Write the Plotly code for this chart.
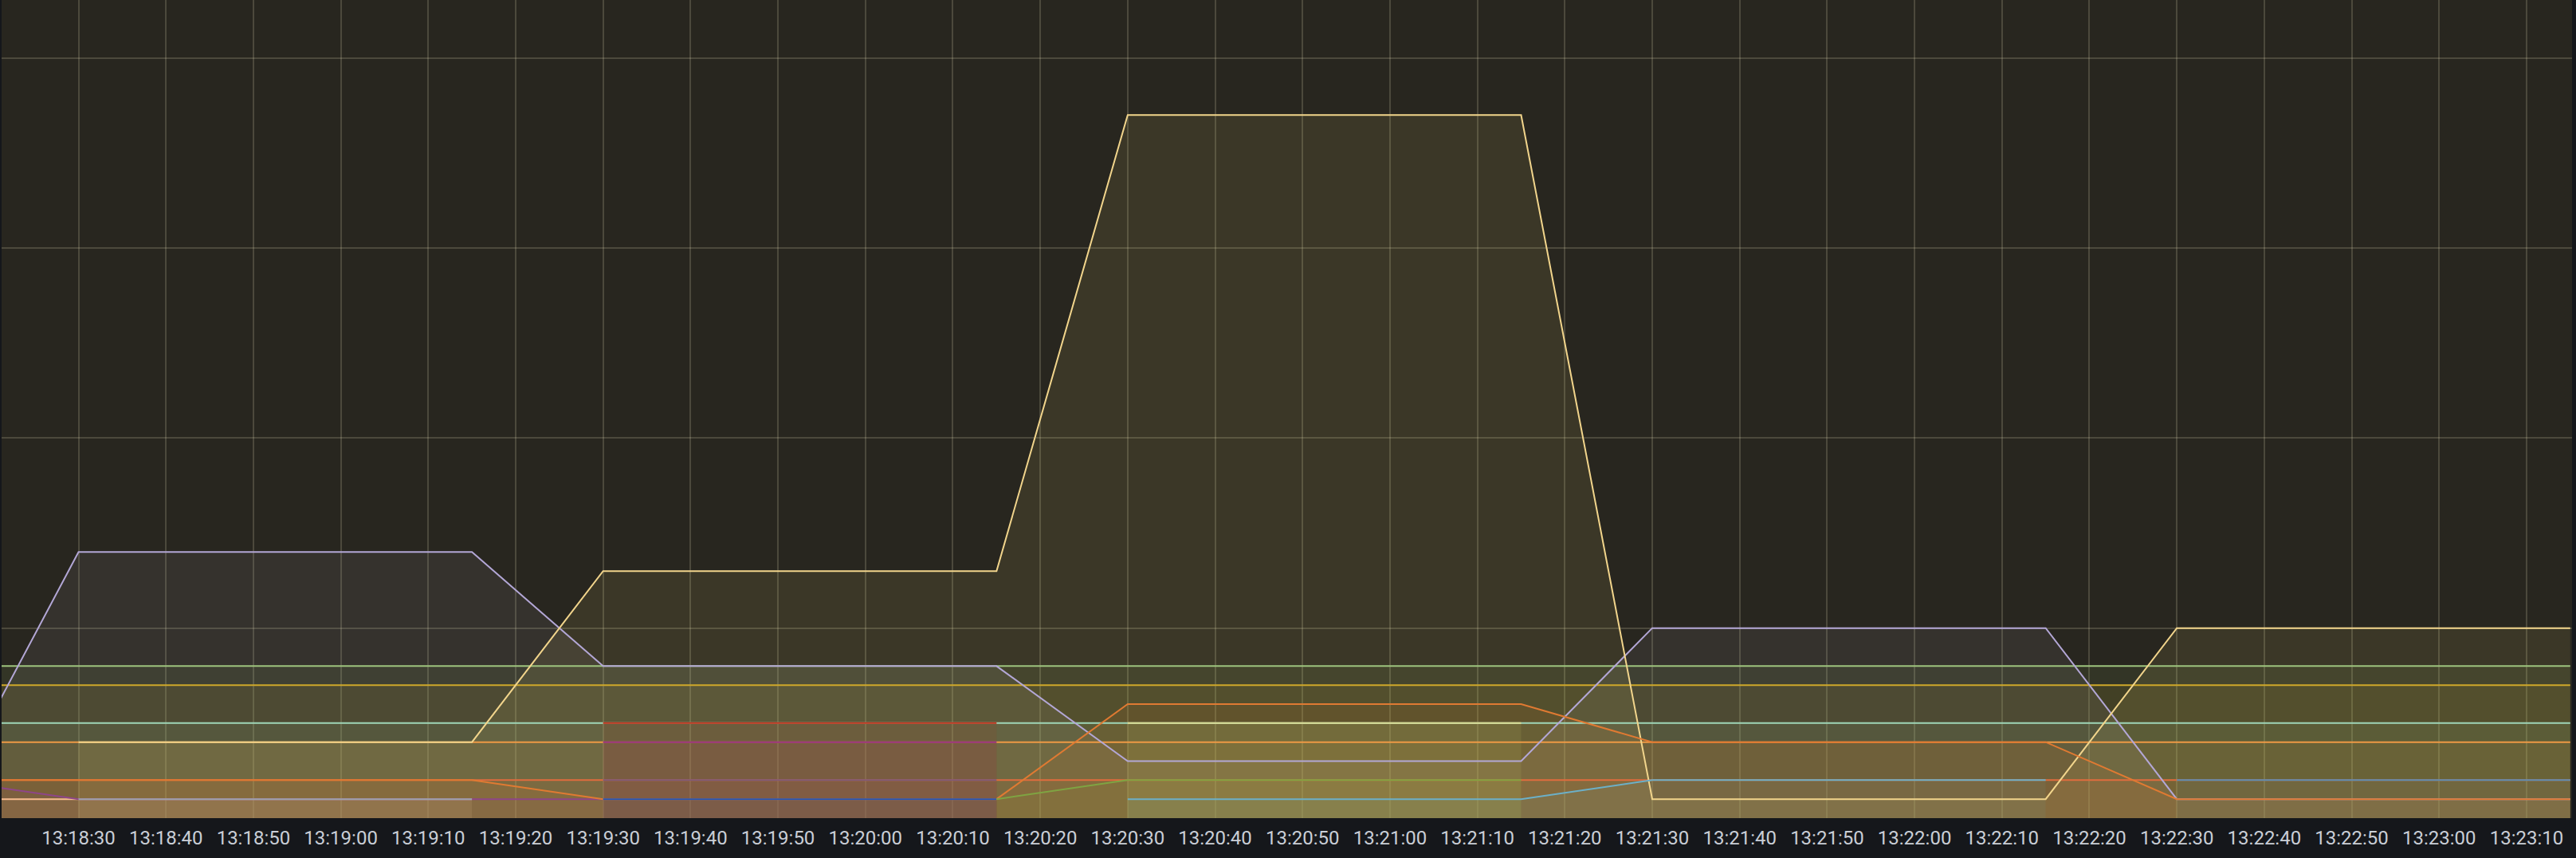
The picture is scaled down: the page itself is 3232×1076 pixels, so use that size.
import plotly.graph_objects as go

# sample times (every 15 s)
times = [
    "2024-01-01 13:18:15", "2024-01-01 13:18:30", "2024-01-01 13:18:45",
    "2024-01-01 13:19:00", "2024-01-01 13:19:15", "2024-01-01 13:19:30",
    "2024-01-01 13:19:45", "2024-01-01 13:20:00", "2024-01-01 13:20:15",
    "2024-01-01 13:20:30", "2024-01-01 13:20:45", "2024-01-01 13:21:00",
    "2024-01-01 13:21:15", "2024-01-01 13:21:30", "2024-01-01 13:21:45",
    "2024-01-01 13:22:00", "2024-01-01 13:22:15", "2024-01-01 13:22:30",
    "2024-01-01 13:22:45", "2024-01-01 13:23:00", "2024-01-01 13:23:15",
]
N = None
green      = [8, 8, 8, 8, 8, 8, 8, 8, 8, 8, 8, 8, 8, 8, 8, 8, 8, 8, 8, 8, 8]
gold       = [7, 7, 7, 7, 7, 7, 7, 7, 7, 7, 7, 7, 7, 7, 7, 7, 7, 7, 7, 7, 7]
mint       = [5, 5, 5, 5, 5, 5, 5, 5, 5, 5, 5, 5, 5, 5, 5, 5, 5, 5, 5, 5, 5]
orange     = [4, 4, 4, 4, 4, 4, 4, 4, 4, 4, 4, 4, 4, 4, 4, 4, 4, 4, 4, 4, 4]
orangered  = [2, 2, 2, 2, 2, 2, 2, 2, 2, 2, 2, 2, 2, 2, 2, 2, 2, 2, 2, 2, 2]
peach      = [1, 1, 1, 1, 1, N, N, N, N, N, N, N, N, N, N, N, N, N, N, N, N]
purple     = [2, 1, 1, 1, 1, 1, N, N, N, N, N, N, N, N, N, N, N, N, N, N, N]
gray       = [N, 1, 1, 1, 1, N, N, N, N, N, N, N, N, N, N, N, N, N, N, N, N]
lavender   = [1, 14, 14, 14, 14, 8, 8, 8, 8, 3, 3, 3, 3, 10, 10, 10, 10, 1, 1, 1, 1]
yellow     = [N, 4, 4, 4, 4, 13, 13, 13, 13, 37, 37, 37, 37, 1, 1, 1, 1, 10, 10, 10, 10]
orange2    = [2, 2, 2, 2, 2, 1, 1, 1, 1, 6, 6, 6, 6, 4, 4, 4, 4, 1, 1, 1, 1]
red        = [N, N, N, N, N, 5, 5, 5, 5, N, N, N, N, N, N, N, N, N, N, N, N]
magenta    = [N, N, N, N, N, 4, 4, 4, 4, N, N, N, N, N, N, N, N, N, N, N, N]
mauve      = [N, N, N, N, N, 2, 2, 2, 2, N, N, N, N, N, N, N, N, N, N, N, N]
blue       = [N, N, N, N, N, 1, 1, 1, 1, N, N, N, N, N, N, N, N, N, N, N, N]
olive      = [N, N, N, N, N, N, N, N, 1, 2, 2, 2, 2, N, N, N, N, N, N, N, N]
paleyellow = [N, N, N, N, N, N, N, N, N, 5, 5, 5, 5, N, N, N, N, N, N, N, N]
lightblue  = [N, N, N, N, N, N, N, N, N, 1, 1, 1, 1, 2, 2, 2, 2, N, N, N, N]
steelblue  = [N, N, N, N, N, N, N, N, N, N, N, N, N, N, N, N, N, 2, 2, 2, 2]

series = [
    ("green", green, "#9ec47e"),
    ("gold", gold, "#cfa82a"),
    ("mint", mint, "#9fd6b8"),
    ("orange", orange, "#ee9a45"),
    ("orangered", orangered, "#e06c3e"),
    ("peach", peach, "#f7bd90"),
    ("purple", purple, "#8e4688"),
    ("gray", gray, "#9ca3ad"),
    ("lavender", lavender, "#b3a7d6"),
    ("yellow", yellow, "#f2d58c"),
    ("orange2", orange2, "#e07a32"),
    ("red", red, "#c0301a"),
    ("magenta", magenta, "#93307f"),
    ("mauve", mauve, "#7d5a78"),
    ("blue", blue, "#2455b5"),
    ("olive", olive, "#7fa442"),
    ("paleyellow", paleyellow, "#dcdc94"),
    ("lightblue", lightblue, "#6cb0c8"),
    ("steelblue", steelblue, "#5b8db3"),
]

FILL_ALPHA = 0.105
FILL_TINT = (0.95, 0.98, 0.8)


def fill_rgba(h, a):
    h = h.lstrip("#")
    r, g, b = int(h[0:2], 16), int(h[2:4], 16), int(h[4:6], 16)
    r, g, b = (round(r * FILL_TINT[0]), round(g * FILL_TINT[1]),
               round(b * FILL_TINT[2]))
    return f"rgba({r},{g},{b},{a})"


fig = go.Figure()
for name, vals, col in series:
    fig.add_trace(go.Scatter(
        x=times, y=vals, mode="none", fill="tozeroy",
        fillcolor=fill_rgba(col, FILL_ALPHA), connectgaps=False,
        hoverinfo="skip", showlegend=False, name=name + " fill"))
for name, vals, col in series:
    fig.add_trace(go.Scatter(
        x=times, y=vals, mode="lines", line=dict(color=col, width=2),
        connectgaps=False, showlegend=False, name=name))

grid = "rgba(255,248,205,0.17)"
fig.update_layout(
    width=3232, height=1076,
    margin=dict(l=2, r=5, t=0, b=50),
    paper_bgcolor="#15171b",
    plot_bgcolor="#28261f",
    showlegend=False,
    font=dict(family="Roboto", size=24, color="#c9ced6"),
    xaxis=dict(
        type="date",
        range=["2024-01-01 13:18:21.2", "2024-01-01 13:23:15.2"],
        dtick=10000, tickformat="%H:%M:%S",
        showgrid=True, gridcolor=grid, gridwidth=1.5,
        zeroline=False, showline=False, ticks="",
        tickfont=dict(family="Roboto", size=24, color="#c9ced6"),
        ticklabelstandoff=8,
    ),
    yaxis=dict(
        range=[0, 43.05], dtick=10, tick0=0,
        showgrid=True, gridcolor=grid, gridwidth=1.5,
        zeroline=False, showline=False, showticklabels=False, ticks="",
    ),
)

fig.write_html(
    "out.html",
    config={"displayModeBar": False},
    post_script="document.body.style.margin='0';document.body.style.background='#15171b';",
)
